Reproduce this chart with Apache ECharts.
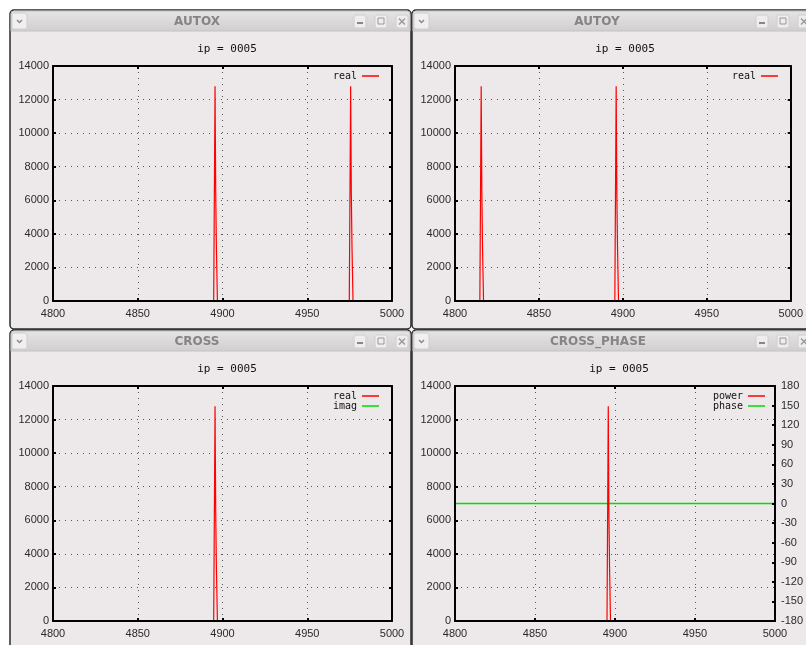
<!DOCTYPE html>
<html>
<head>
<meta charset="utf-8">
<script src="https://cdn.jsdelivr.net/npm/echarts@6/dist/echarts.min.js"></script>
<style>
html, body { margin: 0; padding: 0; background: #fff; }
#container { width: 806px; height: 645px; }
</style>
</head>
<body>
<div id="container"></div>
<script>
// axis ranges
var xMin = 4800, xMax = 5000, xStep = 50;
var powMin = 0, powMax = 14000, powStep = 2000;
var phaseMin = -180, phaseMax = 180, phaseStep = 30;

var windowTitles = ['AUTOX', 'AUTOY', 'CROSS', 'CROSS_PHASE'];
var plotTitle = 'ip = 0005';

// series: [x, value]
var autoxReal = [[4800, 0], [4894.8, 0], [4895.6, 12800], [4895.8, 9600], [4896.0, 6400], [4896.4, 3200], [4897.0, 0],
                 [4974.8, 0], [4975.6, 12800], [4975.8, 9600], [4976.0, 6400], [4976.4, 3200], [4977.0, 0], [5000, 0]];
var autoyReal = [[4800, 0], [4814.8, 0], [4815.6, 12800], [4815.8, 9600], [4816.0, 6400], [4816.4, 3200], [4817.0, 0],
                 [4895.2, 0], [4896.0, 12800], [4896.2, 9600], [4896.4, 6400], [4896.8, 3200], [4897.4, 0], [5000, 0]];
var crossReal = [[4800, 0], [4894.8, 0], [4895.6, 12800], [4895.8, 9600], [4896.0, 6400], [4896.4, 3200], [4897.0, 0], [5000, 0]];
var crossImag = [[4800, 0], [5000, 0]];
var crossPower = [[4800, 0], [4895.0, 0], [4895.8, 12800], [4896.0, 9600], [4896.2, 6400], [4896.6, 3200], [4897.2, 0], [5000, 0]];
var crossPhase = [[4800, 0], [5000, 0]];

var red = '#ff0000', green = '#00dd00';
var tickFont = 'Liberation Sans';
var monoFont = 'DejaVu Sans Mono';

var dom = document.getElementById('container');
var myChart = echarts.init(dom);

// window frames: x, y, w, h, title center
var wins = [
    {x: 10, y: 10, w: 401, h: 319, tx: 197},
    {x: 412, y: 10, w: 400, h: 319, tx: 597},
    {x: 10, y: 330, w: 401, h: 320, tx: 197},
    {x: 412, y: 330, w: 400, h: 320, tx: 598}
];
var grids = [
    {left: 53, top: 66, width: 339, height: 235},
    {left: 455, top: 66, width: 338, height: 235},
    {left: 53, top: 386, width: 339, height: 235},
    {left: 455, top: 386, width: 323, height: 235}
];

function plain(v) { return String(v); }

function xAx(g, pos, main) {
    return {
        type: 'value', gridIndex: g, position: pos, min: xMin, max: xMax, interval: xStep, z: 3,
        axisLine: {show: true, onZero: false, lineStyle: {color: '#000', width: 2}},
        axisTick: {show: true, inside: true, length: 3, lineStyle: {color: '#000', width: 2}},
        axisLabel: {show: main, color: '#2a2a2a', fontSize: 11, fontFamily: tickFont, margin: 7, formatter: plain},
        splitLine: {show: main, lineStyle: {color: '#555', width: 1, type: [1, 5]}}
    };
}
function yAx(g, pos, main, showLabel) {
    return {
        type: 'value', gridIndex: g, position: pos, min: powMin, max: powMax, interval: powStep, z: 3,
        axisLine: {show: true, onZero: false, lineStyle: {color: '#000', width: 2}},
        axisTick: {show: true, inside: true, length: 3, lineStyle: {color: '#000', width: 2}},
        axisLabel: {show: showLabel, color: '#2a2a2a', fontSize: 11, fontFamily: tickFont, margin: 4, formatter: plain},
        splitLine: {show: main, lineStyle: {color: '#555', width: 1, type: [1, 5]}}
    };
}

var xAxes = [], yAxes = [];
for (var g = 0; g < 4; g++) {
    xAxes.push(xAx(g, 'bottom', true));
    xAxes.push(xAx(g, 'top', false));
    yAxes.push(yAx(g, 'left', true, true));
    yAxes.push(yAx(g, 'right', false, false));
}
// phase axis on the right of CROSS_PHASE
yAxes[7] = {
    type: 'value', gridIndex: 3, position: 'right', min: phaseMin, max: phaseMax, interval: phaseStep, z: 3,
    axisLine: {show: true, onZero: false, lineStyle: {color: '#000', width: 2}},
    axisTick: {show: true, inside: true, length: 3, lineStyle: {color: '#000', width: 2}},
    axisLabel: {show: true, color: '#2a2a2a', fontSize: 11, fontFamily: tickFont, margin: 6, formatter: plain},
    splitLine: {show: false}
};

function line(name, g, yi, data, color, z, w) {
    return {
        type: 'line', name: name, xAxisIndex: 2 * g, yAxisIndex: yi, data: data,
        symbol: 'none', showSymbol: false, animation: false, z: z || 2,
        lineStyle: {color: color, width: w || 1.2}, itemStyle: {color: color}
    };
}

// window chrome
var graphics = [];
wins.forEach(function (w, i) {
    graphics.push({type: 'rect', shape: {x: w.x, y: w.y, width: w.w, height: w.h, r: 4},
        style: {fill: '#ede9ea', stroke: '#2b2b2b', lineWidth: 1.5}, z: -10});
    graphics.push({type: 'rect', shape: {x: w.x + 1, y: w.y + 1, width: w.w - 2, height: 20, r: [3, 3, 0, 0]},
        style: {fill: new echarts.graphic.LinearGradient(0, 0, 0, 1, [
            {offset: 0, color: '#e6e4e4'}, {offset: 1, color: '#d0cece'}]), stroke: '#c4c2c2', lineWidth: 1}, z: -9});
    graphics.push({type: 'text', x: w.tx, y: w.y + 12, z: -8,
        style: {text: windowTitles[i], fill: '#858585', font: 'bold 12px "DejaVu Sans"', textAlign: 'center', textVerticalAlign: 'middle'}});
    // chevron box
    graphics.push({type: 'rect', shape: {x: w.x + 2, y: w.y + 3, width: 15, height: 16, r: 2},
        style: {fill: '#f1efef', stroke: '#cfcdcd', lineWidth: 1}, z: -8});
    graphics.push({type: 'polyline', shape: {points: [[w.x + 7, w.y + 10], [w.x + 9.5, w.y + 12.5], [w.x + 12, w.y + 10]]},
        style: {stroke: '#8a8a8a', lineWidth: 1.5, fill: null}, z: -7});
    // buttons
    var bx = w.x + 344;
    [0, 21, 42].forEach(function (off, k) {
        var x0 = bx + off, y0 = w.y + 5;
        graphics.push({type: 'rect', shape: {x: x0, y: y0, width: 12, height: 13, r: 2},
            style: {fill: '#efeded', stroke: '#d0cece', lineWidth: 1}, z: -8});
        if (k === 0) {
            graphics.push({type: 'rect', shape: {x: x0 + 3, y: y0 + 7, width: 6, height: 2},
                style: {fill: '#888'}, z: -7});
        } else if (k === 1) {
            graphics.push({type: 'rect', shape: {x: x0 + 3, y: y0 + 3, width: 6, height: 6},
                style: {fill: null, stroke: '#999', lineWidth: 1}, z: -7});
        } else {
            graphics.push({type: 'polyline', shape: {points: [[x0 + 3, y0 + 3.5], [x0 + 9, y0 + 9.5]]},
                style: {stroke: '#999', lineWidth: 1.5}, z: -7});
            graphics.push({type: 'polyline', shape: {points: [[x0 + 9, y0 + 3.5], [x0 + 3, y0 + 9.5]]},
                style: {stroke: '#999', lineWidth: 1.5}, z: -7});
        }
    });
});

var legendText = {fontFamily: monoFont, fontSize: 10, color: '#111'};
var titleText = {fontFamily: monoFont, fontSize: 11, fontWeight: 'normal', color: '#111'};
var option = {
    backgroundColor: '#fff',
    animation: false,
    graphic: graphics,
    title: [
        {text: plotTitle, left: 222, top: 39, textAlign: 'center', textStyle: titleText},
        {text: plotTitle, left: 620, top: 39, textAlign: 'center', textStyle: titleText},
        {text: plotTitle, left: 222, top: 359, textAlign: 'center', textStyle: titleText},
        {text: plotTitle, left: 614, top: 359, textAlign: 'center', textStyle: titleText}
    ],
    legend: [
        {data: ['real'], right: 422, top: 66, align: 'right', icon: 'rect', itemWidth: 17, itemHeight: 1.5, itemGap: 0, textStyle: legendText, selectedMode: false},
        {data: ['real'], right: 23, top: 66, align: 'right', icon: 'rect', itemWidth: 17, itemHeight: 1.5, itemGap: 0, textStyle: legendText, selectedMode: false},
        {data: ['real', 'imag'], right: 422, top: 386, orient: 'vertical', align: 'right', icon: 'rect', itemWidth: 17, itemHeight: 1.5, itemGap: 0, textStyle: legendText, selectedMode: false},
        {data: ['power', 'phase'], right: 36, top: 386, orient: 'vertical', align: 'right', icon: 'rect', itemWidth: 17, itemHeight: 1.5, itemGap: 0, textStyle: legendText, selectedMode: false}
    ],
    grid: grids,
    xAxis: xAxes,
    yAxis: yAxes,
    series: [
        line('real', 0, 0, autoxReal, red),
        line('real', 1, 2, autoyReal, red),
        line('imag', 2, 4, crossImag, green, 1),
        line('real', 2, 4, crossReal, red),
        line('phase', 3, 7, crossPhase, green, 2, 1.5),
        line('power', 3, 6, crossPower, red)
    ]
};

if (option && typeof option === 'object') {
    myChart.setOption(option);
}
</script>
</body>
</html>
